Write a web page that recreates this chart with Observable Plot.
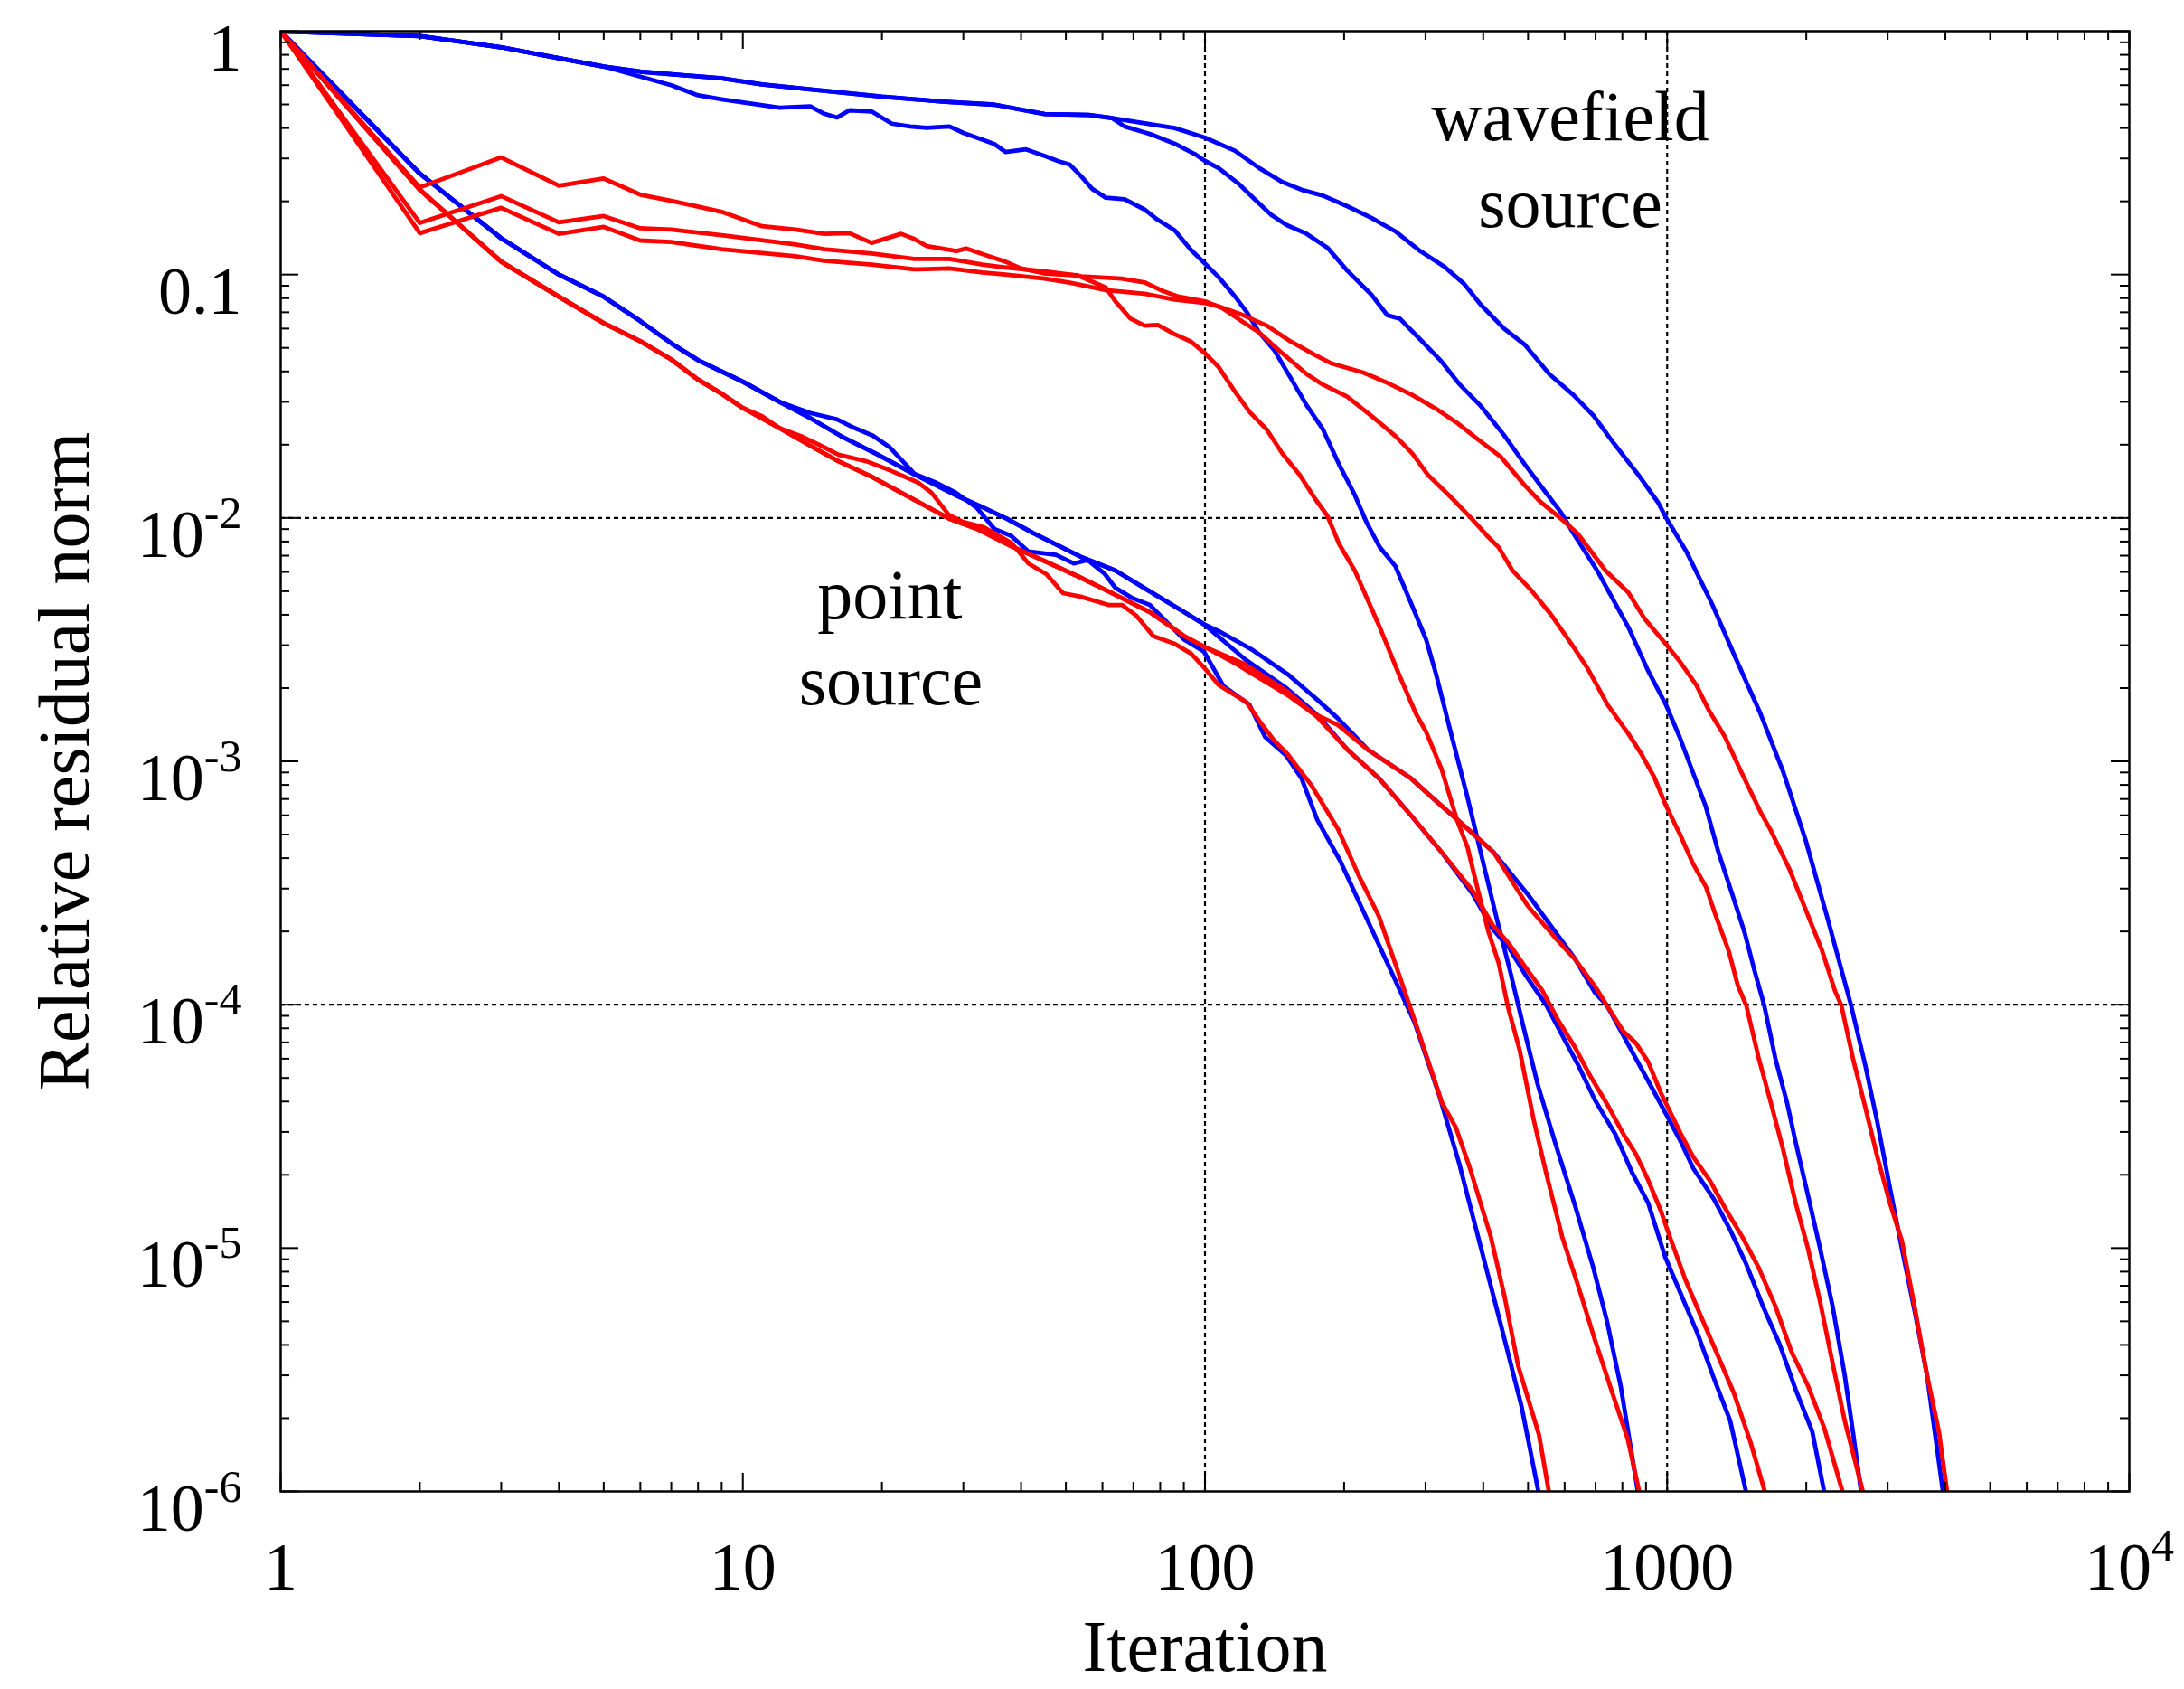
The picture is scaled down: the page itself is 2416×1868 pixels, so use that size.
<!DOCTYPE html>
<html>
<head>
<meta charset="utf-8">
<script src="https://cdn.jsdelivr.net/npm/d3@7"></script>
<script src="https://cdn.jsdelivr.net/npm/@observablehq/plot@0.6"></script>
<style>
  html, body { margin: 0; padding: 0; background: #ffffff; }
</style>
</head>
<body>
<div id="chart"></div>
<script>
// ---- Data: [iteration, relative residual norm] ----
// Blue curves (wavefield source W1..W3, point source Pb1..Pb3)
const W1 = [[1,1],[2,0.955],[3,0.859],[4,0.774],[5,0.716],[6,0.682],[9,0.640],[11,0.604],[14,0.577],[20,0.538],[27,0.514],[35,0.499],[45,0.457],[56,0.453],[63,0.439],[73,0.420],[86,0.400],[100,0.365],[116,0.323],[131,0.274],[147,0.240],[163,0.222],[180,0.211],[203,0.191],[229,0.171],[259,0.150],[292,0.125],[329,0.108],[364,0.0914],[395,0.0752],[445,0.0597],[492,0.0515],[556,0.0390],[627,0.0320],[693,0.0263],[766,0.0203],[865,0.0151],[955,0.0116],[995,0.0100],[1102,0.00724],[1250,0.00444],[1400,0.00271],[1592,0.00157],[1782,0.000908],[1995,0.000472],[2234,0.000219],[2500,0.0000993],[2685,0.0000561],[2851,0.0000327],[3034,0.0000177],[3221,0.00000993],[3428,0.00000557],[3648,0.00000302],[3793,0.00000176],[3954,0.000000989]];
const W2 = [[1,1],[2,0.955],[3,0.859],[4,0.774],[5,0.716],[6,0.682],[9,0.640],[11,0.604],[14,0.577],[20,0.538],[27,0.514],[35,0.499],[45,0.457],[56,0.453],[63,0.439],[67,0.406],[73,0.387],[77,0.375],[86,0.345],[95,0.313],[100,0.293],[107,0.274],[118,0.237],[128,0.204],[139,0.176],[150,0.160],[166,0.147],[184,0.129],[203,0.104],[229,0.0828],[248,0.0681],[264,0.0659],[292,0.0542],[323,0.0445],[356,0.0353],[394,0.0290],[446,0.0216],[492,0.0166],[545,0.0128],[590,0.0105],[627,0.00863],[706,0.00607],[824,0.00356],[908,0.00237],[995,0.00170],[1064,0.00126],[1135,0.000908],[1211,0.000655],[1291,0.000423],[1380,0.000288],[1472,0.000197],[1545,0.000138],[1622,0.0000993],[1714,0.0000603],[1820,0.0000391],[1897,0.0000272],[2018,0.0000164],[2143,0.00000993],[2280,0.00000578],[2421,0.00000302],[2523,0.00000176],[2630,0.000000989]];
const W3 = [[1,1],[2,0.955],[3,0.859],[4,0.774],[5,0.716],[7,0.600],[8,0.545],[9,0.525],[12,0.485],[14,0.491],[15,0.458],[16,0.442],[17,0.473],[19,0.468],[21,0.417],[23,0.406],[25,0.401],[28,0.406],[30,0.382],[33,0.358],[35,0.344],[37,0.319],[41,0.327],[45,0.307],[48,0.293],[51,0.283],[54,0.253],[57,0.225],[61,0.207],[67,0.204],[74,0.185],[79,0.168],[86,0.152],[93,0.127],[100,0.111],[107,0.0977],[116,0.0815],[123,0.0703],[131,0.0578],[141,0.0491],[153,0.0378],[166,0.0290],[180,0.0231],[195,0.0166],[211,0.0124],[224,0.00953],[239,0.00757],[258,0.00635],[279,0.00448],[301,0.00316],[316,0.00229],[339,0.00135],[370,0.000708],[398,0.000398],[427,0.000229],[457,0.000138],[490,0.0000794],[525,0.0000468],[575,0.0000263],[631,0.0000151],[692,0.00000832],[741,0.00000501],[794,0.00000269],[865,0.000000989]];
const Pb1 = [[1,1],[2,0.260],[3,0.141],[4,0.100],[5,0.0811],[6,0.0644],[7,0.0522],[8,0.0445],[10,0.0363],[12,0.0300],[14,0.0270],[16,0.0254],[17.2,0.0237],[19.1,0.0218],[20.8,0.0195],[23.5,0.0152],[26.1,0.0140],[28.9,0.0127],[32.1,0.0110],[35,0.00902],[38.1,0.00843],[41.5,0.00728],[47.6,0.00705],[52,0.00650],[55.7,0.00671],[60.7,0.00589],[64,0.00516],[69.7,0.00468],[76,0.00439],[82.8,0.00372],[90.2,0.00316],[99.5,0.00282],[109.6,0.00204],[124.7,0.00171],[134.9,0.00126],[149.6,0.00106],[161.8,0.000851],[175,0.000574],[196,0.000391],[219,0.000247],[252,0.000139],[284,0.0000847],[321,0.0000426],[355,0.0000222],[394,0.0000103],[437,0.00000481],[484,0.00000224],[528,0.000000973]];
const Pb2 = [[1,1],[2,0.260],[3,0.141],[4,0.100],[5,0.0811],[6,0.0644],[7,0.0522],[8,0.0445],[10,0.0363],[12,0.0300],[14,0.0257],[16.3,0.0217],[19.6,0.0182],[23.5,0.0151],[28.9,0.0124],[32.9,0.0111],[37.4,0.00989],[42.6,0.00865],[53.8,0.00693],[64,0.00608],[76,0.00499],[90.2,0.00410],[99.5,0.00366],[122,0.00263],[150,0.00200],[175,0.00155],[204,0.00111],[238,0.000851],[279,0.000600],[325,0.000423],[379,0.000286],[419,0.000205],[455,0.000171],[493,0.000133],[547,0.0000998],[593,0.0000748],[643,0.0000561],[698,0.0000405],[773,0.0000293],[840,0.0000204],[910,0.0000153],[989,0.00000925],[1072,0.00000644],[1161,0.00000450],[1262,0.00000292],[1368,0.00000196],[1483,0.000000989]];
const Pb3 = [[1,1],[2,0.260],[3,0.141],[4,0.100],[5,0.0811],[6,0.0644],[7,0.0522],[8,0.0445],[10,0.0363],[12,0.0300],[14,0.0257],[16.3,0.0217],[19.6,0.0182],[23.5,0.0151],[28.9,0.0124],[32.9,0.0111],[37.4,0.00989],[42.6,0.00865],[53.8,0.00693],[64,0.00608],[76,0.00499],[90.2,0.00410],[99.5,0.00366],[107,0.00343],[127,0.00286],[151,0.00228],[175,0.00179],[194,0.00150],[226,0.00111],[279,0.000851],[317,0.000684],[361,0.000550],[421,0.000423],[501,0.000282],[562,0.000209],[631,0.000155],[698,0.000112],[741,0.0000991],[855,0.0000603],[929,0.0000452],[998,0.0000351],[1072,0.0000272],[1140,0.0000212],[1262,0.0000159],[1368,0.0000119],[1483,0.00000859],[1611,0.00000578],[1750,0.00000404],[1897,0.00000262],[2061,0.00000176],[2188,0.000000989]];

// Red curves (wavefield source Ra..Rc, point source Pr1..Pr3)
const Ra = [[1,1],[2,0.228],[3,0.303],[4,0.232],[5,0.248],[6,0.213],[7,0.201],[9,0.181],[11,0.158],[13,0.153],[15,0.147],[17,0.148],[19,0.135],[22,0.147],[23.5,0.140],[25,0.131],[29,0.125],[30.4,0.128],[34,0.119],[37,0.113],[40,0.106],[45,0.101],[53,0.0993],[61,0.0885],[64,0.0776],[69,0.0659],[74,0.0617],[79,0.0621],[86,0.0569],[93,0.0532],[100,0.0475],[107,0.0417],[116,0.0331],[125,0.0272],[136,0.0231],[147,0.0184],[160,0.0151],[173,0.0120],[184,0.0102],[195,0.00783],[211,0.00607],[238,0.00361],[264,0.00223],[286,0.00157],[301,0.00132],[325,0.000929],[351,0.000574],[370,0.000442],[389,0.000299],[410,0.000201],[432,0.000148],[452,0.0000986],[480,0.0000646],[514,0.0000338],[547,0.0000204],[593,0.0000111],[643,0.00000692],[698,0.00000418],[757,0.00000262],[822,0.00000164],[871,0.000000989]];
const Rb = [[1,1],[2,0.163],[3,0.210],[4,0.164],[5,0.174],[6,0.155],[7,0.153],[9,0.145],[13,0.133],[15,0.127],[19,0.122],[23.5,0.116],[28,0.116],[33,0.110],[37,0.107],[45,0.103],[51,0.100],[54,0.0984],[66,0.0962],[74,0.0929],[81,0.0857],[87,0.0815],[100,0.0776],[109,0.0728],[121,0.0638],[131,0.0578],[147,0.0475],[166,0.0390],[180,0.0353],[203,0.0315],[229,0.0263],[259,0.0216],[281,0.0184],[303,0.0151],[343,0.0120],[378,0.00991],[410,0.00836],[432,0.00757],[463,0.00607],[505,0.00511],[560,0.00402],[621,0.00303],[671,0.00243],[743,0.00171],[824,0.00130],[880,0.00107],[938,0.000859],[995,0.000655],[1067,0.000499],[1138,0.000379],[1213,0.000305],[1274,0.000232],[1358,0.000167],[1422,0.000120],[1483,0.0000993],[1578,0.0000603],[1679,0.0000391],[1782,0.0000254],[1897,0.0000153],[2018,0.00000993],[2143,0.00000600],[2280,0.00000337],[2421,0.00000196],[2655,0.000000989]];
const Rc = [[1,1],[2,0.148],[3,0.188],[4,0.147],[5,0.157],[6,0.138],[7,0.136],[9,0.127],[13,0.119],[15,0.114],[19,0.110],[23.5,0.105],[28,0.106],[33,0.102],[37,0.100],[45,0.0962],[51,0.0927],[61,0.0863],[74,0.0834],[86,0.0789],[100,0.0764],[107,0.0740],[121,0.0681],[136,0.0617],[153,0.0532],[173,0.0467],[188,0.0431],[220,0.0396],[248,0.0359],[281,0.0320],[316,0.0281],[350,0.0247],[386,0.0213],[437,0.0178],[492,0.0136],[533,0.0116],[590,0.00991],[640,0.00863],[736,0.00607],[824,0.00494],[893,0.00386],[995,0.00302],[1067,0.00256],[1156,0.00206],[1233,0.00161],[1334,0.00126],[1445,0.000908],[1592,0.000619],[1671,0.000526],[1841,0.000359],[1995,0.000245],[2163,0.000167],[2307,0.000114],[2382,0.0000993],[2523,0.0000603],[2685,0.0000377],[2851,0.0000236],[3034,0.0000153],[3221,0.0000107],[3428,0.00000578],[3648,0.00000302],[3873,0.00000176],[4036,0.000000989]];
const Pr1 = [[1,1],[2,0.223],[3,0.113],[4,0.0811],[5,0.0632],[6,0.0532],[7,0.0448],[8,0.0370],[9,0.0324],[10,0.0283],[11,0.0262],[12,0.0234],[13.5,0.0215],[15,0.0195],[16.1,0.0182],[18.5,0.0171],[20.8,0.0157],[23.9,0.0140],[25.6,0.0127],[27.9,0.0103],[29.9,0.00964],[33.2,0.00916],[38.1,0.00791],[41.5,0.00650],[45.3,0.00589],[49.3,0.00491],[53.8,0.00475],[61.8,0.00439],[66.2,0.00439],[71,0.00397],[77.3,0.00327],[85.7,0.00305],[93.3,0.00277],[99.5,0.00243],[107,0.00206],[123,0.00175],[132,0.00144],[141,0.00122],[151,0.00107],[170,0.000796],[194,0.000526],[215,0.000340],[238,0.000230],[264,0.000130],[289,0.0000785],[326,0.0000394],[349,0.0000313],[374,0.0000214],[415,0.0000112],[445,0.00000630],[476,0.00000328],[528,0.00000171],[556,0.000000973]];
const Pr2 = [[1,1],[2,0.223],[3,0.113],[4,0.0811],[5,0.0632],[6,0.0532],[7,0.0448],[8,0.0370],[9,0.0324],[10,0.0283],[12,0.0234],[14,0.0198],[16.1,0.0171],[19.1,0.0147],[22.7,0.0123],[27.9,0.00995],[32.1,0.00902],[38.1,0.00766],[45.3,0.00661],[53.8,0.00569],[64,0.00483],[76,0.00410],[90.2,0.00327],[99.5,0.00296],[122,0.00251],[150,0.00195],[175,0.00152],[204,0.00111],[238,0.000851],[279,0.000600],[325,0.000423],[379,0.000295],[419,0.000213],[455,0.000178],[493,0.000143],[536,0.000115],[581,0.0000863],[631,0.0000671],[684,0.0000504],[741,0.0000391],[805,0.0000293],[855,0.0000244],[910,0.0000190],[968,0.0000143],[1007,0.0000115],[1094,0.00000745],[1186,0.00000519],[1288,0.00000361],[1396,0.00000252],[1517,0.00000158],[1629,0.000000989]];
const Pr3 = [[1,1],[2,0.223],[3,0.113],[4,0.0811],[5,0.0632],[6,0.0532],[7,0.0448],[8,0.0370],[9,0.0324],[10,0.0283],[12,0.0234],[14,0.0198],[16.1,0.0171],[19.1,0.0147],[22.7,0.0123],[27.9,0.00995],[32.1,0.00902],[38.1,0.00766],[45.3,0.00661],[53.8,0.00569],[64,0.00483],[76,0.00410],[90.2,0.00327],[99.5,0.00296],[117,0.00251],[127,0.00228],[151,0.00187],[170,0.00159],[194,0.00141],[226,0.00111],[279,0.000851],[317,0.000684],[361,0.000550],[421,0.000423],[499,0.000255],[569,0.000191],[631,0.000154],[698,0.000119],[741,0.0000991],[805,0.0000774],[855,0.0000697],[910,0.0000581],[968,0.0000436],[1072,0.0000293],[1140,0.0000236],[1236,0.0000190],[1343,0.0000143],[1455,0.0000111],[1578,0.00000830],[1714,0.00000578],[1858,0.00000375],[2018,0.00000271],[2188,0.00000182],[2399,0.000000989]];

// Axis ticks and labels
const xMajorTicks = [1, 10, 100, 1000, 10000];
const xTickLabels = ["1", "10", "100", "1000", "10^4"];
const xMinorTicks = [2,3,4,5,6,7,8,9,20,30,40,50,60,70,80,90,200,300,400,500,600,700,800,900,2000,3000,4000,5000,6000,7000,8000,9000];
const yMajorTicks = [1, 0.1, 0.01, 0.001, 0.0001, 0.00001, 0.000001];
const yTickLabels = ["1", "0.1", "10^-2", "10^-3", "10^-4", "10^-5", "10^-6"];
const yMinorTicks = [0.9,0.8,0.7,0.6,0.5,0.4,0.3,0.2,0.09,0.08,0.07,0.06,0.05,0.04,0.03,0.02,0.009,0.008,0.007,0.006,0.005,0.004,0.003,0.002,0.0009,0.0008,0.0007,0.0006,0.0005,0.0004,0.0003,0.0002,0.00009,0.00008,0.00007,0.00006,0.00005,0.00004,0.00003,0.00002,0.000009,0.000008,0.000007,0.000006,0.000005,0.000004,0.000003,0.000002];
const xGrid = [100, 1000];
const yGrid = [0.01, 0.0001];
const annotations = [
  {label: "wavefield", iteration: 617, residual: 0.358},
  {label: "source", iteration: 617, residual: 0.157},
  {label: "point", iteration: 20.8, residual: 0.00385},
  {label: "source", iteration: 20.9, residual: 0.00172}
];
const xTitle = "Iteration";
const yTitle = "Relative residual norm";

// ---- Build tables ----
const blueCurves = {W1, W2, W3, Pb1, Pb2, Pb3};
const redCurves = {Ra, Rb, Rc, Pr1, Pr2, Pr3};
const toRows = (curves) => Object.entries(curves).flatMap(([name, pts]) =>
  pts.map(([iteration, residual]) => ({name, iteration, residual})));
const blueRows = toRows(blueCurves);
const redRows = toRows(redCurves);

// ---- Layout ----
const W = 2416, H = 1868;
const mL = 310, mR = 61, mT = 34, mB = 219;
const frameW = W - mL - mR, frameH = H - mT - mB;
const majorLen = 20, minorLen = 10;
const tickStyle = {stroke: "black", strokeWidth: 2};
const lineStyle = {x: "iteration", y: "residual", z: "name", strokeWidth: 4.8, strokeLinejoin: "round", strokeLinecap: "round", clip: true};

const chart = Plot.plot({
  width: W,
  height: H,
  marginLeft: mL,
  marginRight: mR,
  marginTop: mT,
  marginBottom: mB,
  x: {type: "log", domain: [1, 10000], axis: null},
  y: {type: "log", domain: [0.000001, 1], axis: null},
  style: {fontFamily: "'Liberation Serif', 'Times New Roman', serif", background: "#ffffff", color: "#000000"},
  marks: [
    Plot.ruleX(xGrid, {x: d => d, stroke: "black", strokeWidth: 2.2, strokeDasharray: "5,4"}),
    Plot.ruleY(yGrid, {y: d => d, stroke: "black", strokeWidth: 2.2, strokeDasharray: "5,4"}),
    Plot.line(blueRows, {...lineStyle, stroke: "#0000ff"}),
    Plot.line(redRows, {...lineStyle, stroke: "#ff0000"}),
    // inward ticks on all four sides
    Plot.tickX(xMajorTicks, {x: d => d, insetTop: frameH - majorLen, ...tickStyle}),
    Plot.tickX(xMajorTicks, {x: d => d, insetBottom: frameH - majorLen, ...tickStyle}),
    Plot.tickX(xMinorTicks, {x: d => d, insetTop: frameH - minorLen, ...tickStyle}),
    Plot.tickX(xMinorTicks, {x: d => d, insetBottom: frameH - minorLen, ...tickStyle}),
    Plot.tickY(yMajorTicks, {y: d => d, insetRight: frameW - majorLen, ...tickStyle}),
    Plot.tickY(yMajorTicks, {y: d => d, insetLeft: frameW - majorLen, ...tickStyle}),
    Plot.tickY(yMinorTicks, {y: d => d, insetRight: frameW - minorLen, ...tickStyle}),
    Plot.tickY(yMinorTicks, {y: d => d, insetLeft: frameW - minorLen, ...tickStyle}),
    Plot.frame({stroke: "black", strokeWidth: 2.5}),
    // tick labels
    Plot.text(xMajorTicks, {x: d => d, text: (d, i) => xTickLabels[i], frameAnchor: "bottom", textAnchor: "middle", dy: 108, lineAnchor: "bottom", fontSize: 74, fill: "black"}),
    Plot.text(yMajorTicks, {y: d => d, text: (d, i) => yTickLabels[i], frameAnchor: "left", textAnchor: "end", dx: -43, dy: 43, lineAnchor: "bottom", fontSize: 74, fill: "black"}),
    // axis titles
    Plot.text([xTitle], {text: d => d, frameAnchor: "bottom", textAnchor: "middle", dy: 198, lineAnchor: "bottom", fontSize: 80, fill: "black"}),
    Plot.text([yTitle], {text: d => d, frameAnchor: "left", textAnchor: "middle", dx: -213, rotate: -90, lineAnchor: "bottom", fontSize: 80, fill: "black"}),
    // annotations
    Plot.text(annotations, {x: "iteration", y: "residual", text: "label", textAnchor: "middle", lineAnchor: "bottom", fontSize: 78, fill: "black"})
  ]
});

// superscripts for labels such as 10^-2
d3.select(chart).selectAll("text").each(function () {
  const t = this.textContent;
  const k = t.indexOf("^");
  if (k < 0) return;
  this.textContent = t.slice(0, k);
  const ts = document.createElementNS("http://www.w3.org/2000/svg", "tspan");
  ts.setAttribute("dy", "-32");
  ts.setAttribute("font-size", "50");
  ts.textContent = t.slice(k + 1);
  this.appendChild(ts);
});

document.getElementById("chart").appendChild(chart);
</script>
</body>
</html>
